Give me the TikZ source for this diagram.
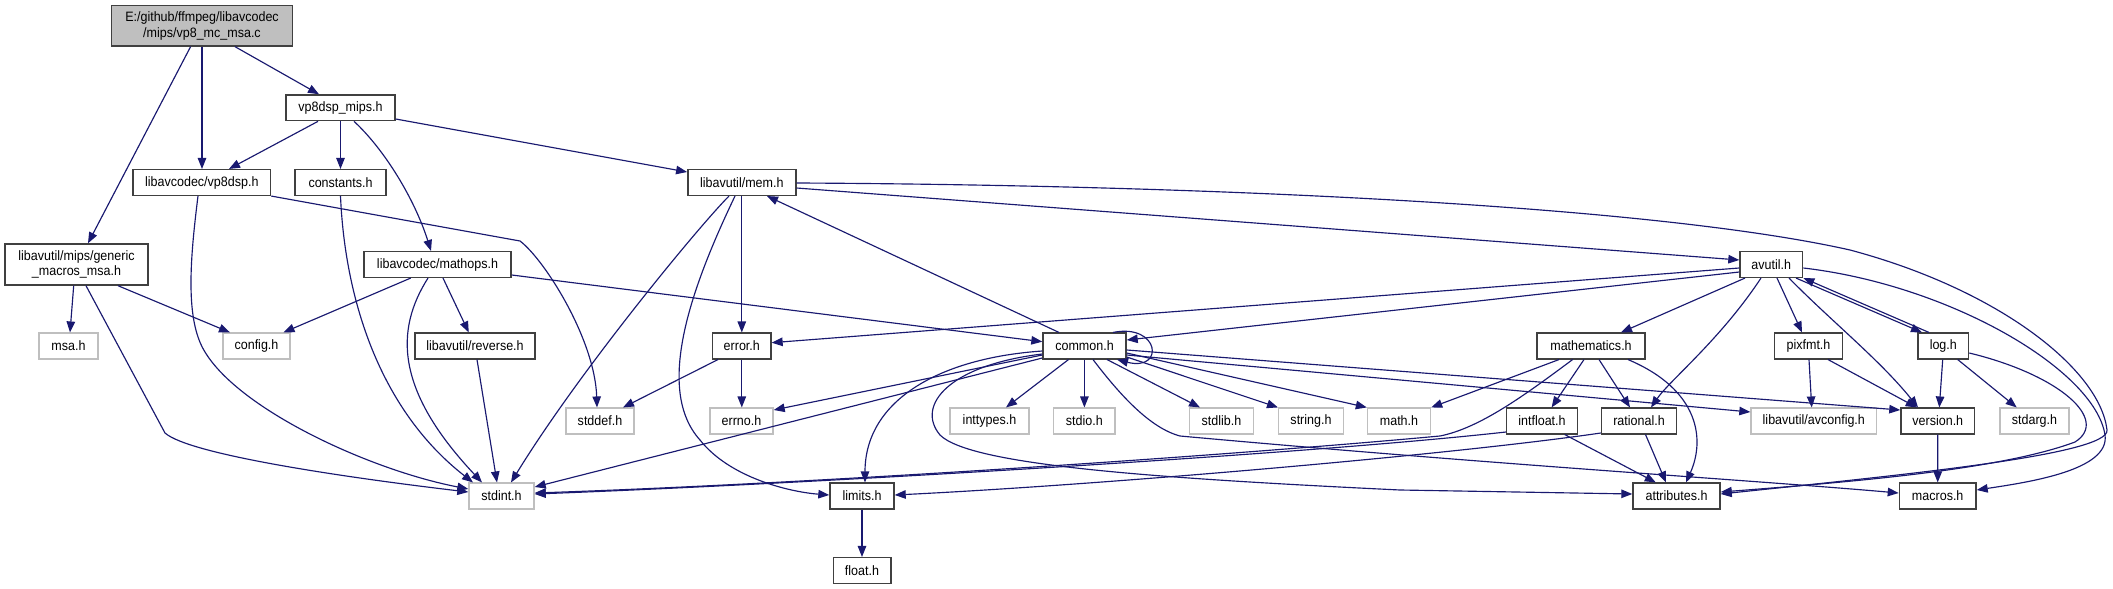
\documentclass[tikz,border=0pt]{standalone}
\usepackage{fontspec}
\setmainfont{Liberation Sans}[FakeStretch=0.92]
\usetikzlibrary{arrows.meta}
\definecolor{edgec}{HTML}{191970}
\definecolor{docb}{HTML}{404040}
\definecolor{undoc}{HTML}{BFBFBF}
\definecolor{mainfill}{HTML}{BFBFBF}
\begin{document}
\begin{tikzpicture}[x=1pt,y=-1pt,
  box/.style={draw=docb, line width=1.4pt, fill=white, inner sep=0pt, font=\fontsize{13.6}{15.5}\selectfont, align=center},
  ubox/.style={box, draw=undoc},
  mainbox/.style={box, fill=mainfill},
  dep/.style={draw=edgec, line width=1.15pt, -{Triangle[length=11pt,width=8.5pt]}},
]
\fill[white] (0,0) rectangle (2113,589);
\useasboundingbox (0,0) rectangle (2113,589);

% nodes
\node[mainbox, minimum width=181pt, minimum height=40.3pt] (main) at (202,25.8) {E:/github/ffmpeg/libavcodec\\/mips/vp8\_mc\_msa.c};
\node[box, minimum width=109pt, minimum height=25.7pt] (vp8mips) at (340.5,107.8) {vp8dsp\_mips.h};
\node[box, minimum width=137.5pt, minimum height=25.7pt] (vp8dsp) at (201.8,182.5) {libavcodec/vp8dsp.h};
\node[box, minimum width=91pt, minimum height=25.7pt] (constants) at (340.5,182.5) {constants.h};
\node[box, minimum width=143pt, minimum height=41pt] (generic) at (76.5,264.5) {libavutil/mips/generic\\\_macros\_msa.h};
\node[box, minimum width=147pt, minimum height=25.7pt] (mathops) at (437.5,264.5) {libavcodec/mathops.h};
\node[box, minimum width=108pt, minimum height=25.7pt] (mem) at (741.8,182.5) {libavutil/mem.h};
\node[ubox, minimum width=59pt, minimum height=25.7pt] (msa) at (68.5,346) {msa.h};
\node[ubox, minimum width=67pt, minimum height=25.7pt] (config) at (256.5,346) {config.h};
\node[box, minimum width=120pt, minimum height=25.7pt] (reverse) at (475,346) {libavutil/reverse.h};
\node[ubox, minimum width=68pt, minimum height=25.7pt] (stddef) at (600,421) {stddef.h};
\node[ubox, minimum width=65pt, minimum height=25.7pt] (stdint) at (501.5,496) {stdint.h};
\node[box, minimum width=58.3pt, minimum height=25.7pt] (error) at (741.8,346) {error.h};
\node[box, minimum width=83pt, minimum height=25.7pt] (common) at (1084.5,346) {common.h};
\node[ubox, minimum width=63pt, minimum height=25.7pt] (errno) at (741.5,421) {errno.h};
\node[ubox, minimum width=79pt, minimum height=25.7pt] (inttypes) at (989.5,421) {inttypes.h};
\node[ubox, minimum width=61.3pt, minimum height=25.7pt] (stdio) at (1084.4,421) {stdio.h};
\node[ubox, minimum width=64pt, minimum height=25.7pt] (stdlib) at (1221.5,421) {stdlib.h};
\node[ubox, minimum width=65pt, minimum height=25.7pt] (string) at (1311,421) {string.h};
\node[ubox, minimum width=63pt, minimum height=25.7pt] (math) at (1399,421) {math.h};
\node[box, minimum width=64pt, minimum height=25.7pt] (limits) at (862,496) {limits.h};
\node[box, minimum width=57.6pt, minimum height=25.7pt] (float) at (862,570.5) {float.h};
\node[box, minimum width=62.6pt, minimum height=25.7pt] (avutil) at (1771.3,264.5) {avutil.h};
\node[box, minimum width=108pt, minimum height=25.7pt] (mathematics) at (1591,346) {mathematics.h};
\node[box, minimum width=68pt, minimum height=25.7pt] (pixfmt) at (1808.5,346) {pixfmt.h};
\node[box, minimum width=50.6pt, minimum height=25.7pt] (log) at (1943.3,346) {log.h};
\node[box, minimum width=70.6pt, minimum height=25.7pt] (intfloat) at (1542,421) {intfloat.h};
\node[box, minimum width=75pt, minimum height=25.7pt] (rational) at (1639,421) {rational.h};
\node[ubox, minimum width=125.6pt, minimum height=25.7pt] (avconfig) at (1813.8,421) {libavutil/avconfig.h};
\node[box, minimum width=73.7pt, minimum height=25.7pt] (version) at (1937.8,421) {version.h};
\node[ubox, minimum width=69pt, minimum height=25.7pt] (stdarg) at (2034.5,421) {stdarg.h};
\node[box, minimum width=87pt, minimum height=25.7pt] (attributes) at (1676.5,496) {attributes.h};
\node[box, minimum width=76.6pt, minimum height=25.7pt] (macros) at (1937.7,496) {macros.h};

% edges
\draw[dep] (main.south -| 235,0) -- (vp8mips.north -| 319,0);
\draw[dep] (main.south -| 202,0) -- (vp8dsp.north -| 202,0);
\draw[dep] (main.south -| 190.6,0) -- (generic.north -| 88,0);
\draw[dep] (vp8mips.south -| 318,0) -- (vp8dsp.north -| 229,0);
\draw[dep] (vp8mips.south -| 340.5,0) -- (constants.north);
\draw[dep] (vp8mips.south -| 354,0) .. controls (385,150) and (415,200) .. (mathops.north -| 431,0);
\draw[dep] (vp8mips.east |- 0,119) -- (mem.west |- 0,172);
\draw[dep] (vp8dsp.south -| 198,0) .. controls (190,260) and (185,320) .. (205,352) .. controls (240,410) and (370,470) .. (stdint.west |- 0,489);
\draw[dep] (vp8dsp.south east) -- (520,241) .. controls (545,260) and (595,340) .. (stddef.north -| 597,0);
\draw[dep] (constants.south) .. controls (345,300) and (380,410) .. (stdint.north -| 473,0);
\draw[dep] (generic.south -| 73.7,0) -- (msa.north -| 70,0);
\draw[dep] (generic.south -| 118,0) -- (config.north -| 230,0);
\draw[dep] (generic.south -| 86,0) -- (165,433) .. controls (190,455) and (350,478) .. (stdint.west |- 0,492);
\draw[dep] (mathops.south -| 410.7,0) -- (config.north -| 283.5,0);
\draw[dep] (mathops.south -| 428,0) .. controls (395,330) and (395,390) .. (stdint.north -| 482,0);
\draw[dep] (mathops.south -| 443,0) -- (reverse.north -| 468.75,0);
\draw[dep] (mathops.east |- 0,275) -- (common.west |- 0,341.7);
\draw[dep] (reverse.south -| 477,0) -- (stdint.north -| 497,0);
\draw[dep] (mem.south -| 729,0) .. controls (700,225) and (580,370) .. (stdint.north -| 511,0);
\draw[dep] (mem.south) -- (error.north);
\draw[dep] (mem.south -| 735,0) .. controls (690,290) and (655,390) .. (700,440) .. controls (730,478) and (790,492) .. (limits.west |- 0,495);
\draw[dep] (mem.east |- 0,188) -- (avutil.west |- 0,260);
\draw[dep] (mem.east |- 0,183) .. controls (1200,185) and (1650,205) .. (1850,250) .. controls (2000,290) and (2100,370) .. (2107,430) .. controls (2110,455) and (1900,475) .. (attributes.east |- 0,494);
\draw[dep] (avutil.east |- 0,268) .. controls (1950,285) and (2095,370) .. (2105,435) .. controls (2110,470) and (2030,482) .. (macros.east |- 0,490);
\draw[dep] (avutil.west |- 0,268) -- (error.east |- 0,342.7);
\draw[dep] (avutil.west |- 0,272) -- (common.east |- 0,340);
\draw[dep] (common.north -| 1059,0) -- (mem.south -| 767,0);
\draw[dep] (common.north -| 1113,0) .. controls (1160,323) and (1165,372) .. (common.south -| 1117,0);
\draw[dep] (common.west |- 0,355) -- (errno.east |- 0,410);
\draw[dep] (common.south -| 1068.5,0) -- (inttypes.north -| 1006,0);
\draw[dep] (common.south -| 1084.4,0) -- (stdio.north);
\draw[dep] (common.south -| 1107,0) -- (stdlib.north -| 1200,0);
\draw[dep] (common.east |- 0,357) -- (string.north -| 1278,0);
\draw[dep] (common.east |- 0,353) -- (math.north west);
\draw[dep] (common.west |- 0,358) -- (stdint.east |- 0,487);
\draw[dep] (common.west |- 0,351) .. controls (940,358) and (865,400) .. (limits.north -| 865,0);
\draw[dep] (common.west |- 0,354) .. controls (950,365) and (915,405) .. (940,435) .. controls (970,465) and (1150,478) .. (1400,490) -- (attributes.west |- 0,494);
\draw[dep] (common.south -| 1093,0) .. controls (1120,395) and (1150,428) .. (1180,436) .. controls (1500,465) and (1750,480) .. (macros.west |- 0,493);
\draw[dep] (common.east |- 0,350) -- (version.west |- 0,410);
\draw[dep] (common.east |- 0,355) -- (avconfig.west |- 0,412);
\draw[dep] (error.south) -- (errno.north -| 741.8,0);
\draw[dep] (error.south -| 718,0) -- (stddef.north -| 623,0);
\draw[dep] (limits.south) -- (float.north);
\draw[dep] (avutil.south -| 1745,0) -- (mathematics.north -| 1621,0);
\draw[dep] (avutil.south -| 1761,0) .. controls (1720,340) and (1670,380) .. (rational.north -| 1651,0);
\draw[dep] (avutil.south -| 1777,0) -- (pixfmt.north -| 1802,0);
\draw[dep] (avutil.south -| 1789,0) .. controls (1830,320) and (1880,360) .. (version.north -| 1918,0);
\draw[dep] (avutil.south -| 1796,0) -- (log.north -| 1922,0);
\draw[dep] (log.north -| 1929,0) -- (avutil.south east);
\draw[dep] (log.south -| 1942.7,0) -- (version.north -| 1939.3,0);
\draw[dep] (log.south -| 1957.7,0) -- (stdarg.north -| 2016.7,0);
\draw[dep] (log.east |- 0,353) .. controls (2060,375) and (2110,420) .. (2075,442) .. controls (2000,470) and (1850,482) .. (attributes.east |- 0,492);
\draw[dep] (pixfmt.south -| 1809,0) -- (avconfig.north -| 1811.7,0);
\draw[dep] (pixfmt.south -| 1828,0) -- (version.north -| 1916.7,0);
\draw[dep] (version.south) -- (macros.north);
\draw[dep] (mathematics.south -| 1559,0) -- (math.north east);
\draw[dep] (mathematics.south -| 1572.6,0) .. controls (1525,395) and (1480,428) .. (1440,436) .. controls (1200,458) and (800,484) .. (stdint.east |- 0,493);
\draw[dep] (mathematics.south -| 1584,0) -- (intfloat.north -| 1551.6,0);
\draw[dep] (mathematics.south -| 1599,0) -- (rational.north -| 1630,0);
\draw[dep] (mathematics.south -| 1628,0) .. controls (1700,390) and (1705,440) .. (attributes.north -| 1686,0);
\draw[dep] (intfloat.west |- 0,432) .. controls (1300,455) and (800,484) .. (stdint.east |- 0,494);
\draw[dep] (intfloat.south -| 1564.7,0) -- (attributes.north -| 1655.8,0);
\draw[dep] (rational.west |- 0,433) .. controls (1450,455) and (1100,485) .. (limits.east |- 0,495);
\draw[dep] (rational.south -| 1645.5,0) -- (attributes.north -| 1666,0);
\end{tikzpicture}
\end{document}
